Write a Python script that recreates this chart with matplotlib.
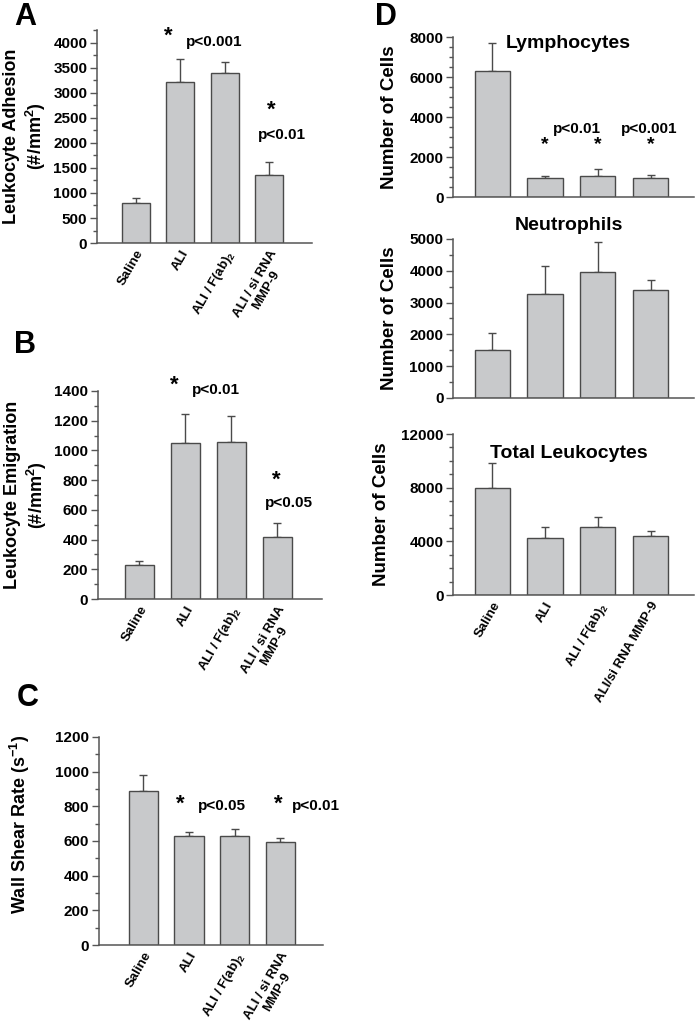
import numpy as np
import matplotlib
matplotlib.use('Agg')
import matplotlib.pyplot as plt
from matplotlib.ticker import MultipleLocator

plt.rcParams['font.family'] = ['Liberation Sans', 'DejaVu Sans']
plt.rcParams['font.weight'] = 'bold'
plt.rcParams['axes.labelweight'] = 'bold'
plt.rcParams['mathtext.fontset'] = 'custom'
plt.rcParams['mathtext.rm'] = 'Liberation Sans:bold'
plt.rcParams['mathtext.bf'] = 'Liberation Sans:bold'
plt.rcParams['mathtext.it'] = 'Liberation Sans:bold'
plt.rcParams['mathtext.default'] = 'bf'

# group labels
groups_abc = ['Saline', 'ALI', r'ALI / F(ab)$_2$', 'ALI / si RNA\nMMP-9']
groups_d = ['Saline', 'ALI', r'ALI / F(ab)$_2$', 'ALI/si RNA MMP-9']

# A: leukocyte adhesion (#/mm2)
adhesion = [800, 3220, 3390, 1360]
adhesion_err = [90, 450, 220, 250]
# B: leukocyte emigration (#/mm2)
emigration = [230, 1050, 1060, 420]
emigration_err = [28, 195, 175, 95]
# C: wall shear rate (1/s)
shear = [890, 628, 628, 595]
shear_err = [92, 22, 40, 23]
# D: BAL cell counts
lymph = [6280, 950, 1060, 960]
lymph_err = [1420, 90, 320, 140]
neutro = [1520, 3280, 3970, 3380]
neutro_err = [520, 860, 930, 340]
total = [7950, 4250, 5100, 4430]
total_err = [1900, 850, 750, 320]

BAR = '#c8c9cb'
EDGE = '#4a4a4a'
AX = '#555555'

fig = plt.figure(figsize=(6.95, 10.30), dpi=100)
axes = []


def bar_panel(rect, vals, errs, xlim, width, ylim, major, minor, labels=None):
    ax = fig.add_axes(rect)
    x = np.arange(len(vals))
    ax.bar(x, vals, width=width, color=BAR, edgecolor=EDGE, linewidth=1.0, zorder=2)
    ax.errorbar(x, vals, yerr=[np.zeros(len(vals)), errs], fmt='none',
                ecolor=EDGE, elinewidth=1.0, capsize=3, capthick=1.0, zorder=1)
    ax.set_xlim(*xlim)
    ax.set_ylim(*ylim)
    for s in ['top', 'right']:
        ax.spines[s].set_visible(False)
    for s in ['left', 'bottom']:
        ax.spines[s].set_color(AX)
        ax.spines[s].set_linewidth(1.1)
    ax.tick_params(axis='y', which='major', length=5, width=1, color=AX, pad=2,
                   labelsize=11)
    ax.tick_params(axis='y', which='minor', length=3, width=1, color=AX)
    ax.tick_params(axis='x', length=0)
    ax.yaxis.set_major_locator(MultipleLocator(major))
    ax.yaxis.set_minor_locator(MultipleLocator(minor))
    ax.set_xticks(x)
    if labels is None:
        ax.set_xticklabels([])
    else:
        ax.set_xticklabels(labels, rotation=60, ha='right', va='top',
                           rotation_mode='anchor', fontsize=9.5,
                           fontweight='bold', multialignment='center',
                           linespacing=1.0)
    axes.append(ax)
    return ax


# Panel A
axA = bar_panel([0.1396, 0.764, 0.309, 0.2068], adhesion, adhesion_err,
                (-0.87, 3.95), 0.63, (0, 4250), 500, 250, groups_abc)
axA.set_ylabel('Leukocyte Adhesion\n' + r'(#/mm$^2$)', fontsize=13, labelpad=4)
axA.text(0.73, 4120, '*', fontsize=16, ha='center', va='center')
axA.text(1.12, 4020, 'p<0.001', fontsize=11, ha='left', va='center')
axA.text(3.05, 2650, '*', fontsize=16, ha='center', va='center')
axA.text(3.27, 2150, 'p<0.01', fontsize=11, ha='center', va='center')

# Panel B
axB = bar_panel([0.141, 0.4184, 0.322, 0.202], emigration, emigration_err,
                (-0.90, 3.97), 0.63, (0, 1400), 200, 100, groups_abc)
axB.set_ylabel('Leukocyte Emigration\n' + r'(#/mm$^2$)', fontsize=13, labelpad=4)
axB.text(0.77, 1440, '*', fontsize=16, ha='center', va='center', clip_on=False)
axB.text(1.14, 1410, 'p<0.01', fontsize=11, ha='left', va='center', clip_on=False)
axB.text(2.97, 800, '*', fontsize=16, ha='center', va='center')
axB.text(3.25, 646, 'p<0.05', fontsize=11, ha='center', va='center')

# Panel C
axC = bar_panel([0.1424, 0.0825, 0.3223, 0.202], shear, shear_err,
                (-0.97, 3.93), 0.64, (0, 1200), 200, 100, groups_abc)
axC.set_ylabel(r'Wall Shear Rate (s$^{-1}$)', fontsize=13)
axC.yaxis.set_label_coords(-0.30, 0.58)
axC.text(0.82, 814, '*', fontsize=16, ha='center', va='center')
axC.text(1.19, 802, 'p<0.05', fontsize=11, ha='left', va='center')
axC.text(2.96, 814, '*', fontsize=16, ha='center', va='center')
axC.text(3.25, 802, 'p<0.01', fontsize=11, ha='left', va='center', clip_on=False)

# Panel D
dx = (-0.74, 3.83)
axD1 = bar_panel([0.652, 0.8087, 0.347, 0.1553], lymph, lymph_err,
                 dx, 0.67, (0, 8000), 2000, 500)
axD1.set_ylabel('Number of Cells', fontsize=13.5, labelpad=8)
axD1.text(1.44, 7700, 'Lymphocytes', fontsize=14, ha='center', va='center')
for i in range(1, 4):
    axD1.text(i, 2600, '*', fontsize=14, ha='center', va='center')
axD1.text(1.61, 3400, 'p<0.01', fontsize=11, ha='center', va='center')
axD1.text(2.98, 3400, 'p<0.001', fontsize=11, ha='center', va='center')

axD2 = bar_panel([0.652, 0.6136, 0.347, 0.1544], neutro, neutro_err,
                 dx, 0.67, (0, 5000), 1000, 500)
axD2.set_ylabel('Number of Cells', fontsize=13.5, labelpad=8)
axD2.text(1.46, 5410, 'Neutrophils', fontsize=14, ha='center', va='center',
          clip_on=False)

axD3 = bar_panel([0.652, 0.4223, 0.347, 0.1563], total, total_err,
                 dx, 0.67, (0, 12000), 4000, 1000, groups_d)
axD3.set_ylabel('Number of Cells', fontsize=13.5, labelpad=8)
axD3.text(1.46, 10580, 'Total Leukocytes', fontsize=14, ha='center', va='center')

# panel letters
for lab, xp, yp in [('A', 25, 17), ('B', 25, 345), ('C', 28, 698), ('D', 386, 17)]:
    fig.text(xp / 695, 1 - yp / 1030, lab, fontsize=22, fontweight='bold',
             ha='center', va='center')

# make y tick labels bold once the ticks exist
fig.canvas.draw()
for ax in axes:
    for t in ax.get_yticklabels():
        t.set_fontweight('bold')
        t.set_fontfamily(['Liberation Sans', 'DejaVu Sans'])

fig.savefig('out.png', dpi=100)
